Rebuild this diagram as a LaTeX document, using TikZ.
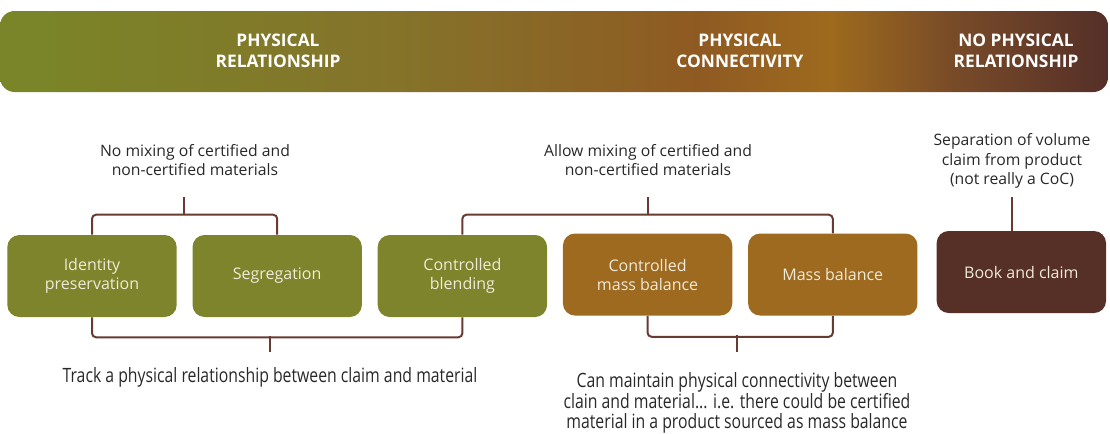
\documentclass[tikz,border=0pt]{standalone}
\usepackage{fontspec}
\setmainfont{Open Sans}
\newfontfamily\condfont[FakeStretch=0.8]{Open Sans}
\usetikzlibrary{positioning}

\definecolor{olivebox}{RGB}{126,132,43}
\definecolor{ochrebox}{RGB}{157,106,32}
\definecolor{brownbox}{RGB}{86,47,39}
\definecolor{bracketcol}{RGB}{104,58,50}
\definecolor{boxtext}{RGB}{240,234,216}
\definecolor{notetext}{RGB}{40,40,40}
\definecolor{bannerA}{RGB}{122,132,40}
\definecolor{bannerB}{RGB}{133,115,42}
\definecolor{bannerC}{RGB}{143,90,34}
\definecolor{bannerD}{RGB}{158,106,30}
\definecolor{bannerE}{RGB}{120,75,40}
\definecolor{bannerF}{RGB}{85,47,40}

\pgfdeclarehorizontalshading{banner}{100bp}{color(0bp)=(bannerA); color(27bp)=(bannerA); color(43bp)=(bannerB); color(56.5bp)=(bannerC); color(62.5bp)=(bannerD); color(68bp)=(bannerE); color(75bp)=(bannerF); color(100bp)=(bannerF)}

\tikzset{
  method/.style={rounded corners=9pt, minimum width=127pt, minimum height=61.5pt,
    inner sep=0pt, text=boxtext, align=center, font=\fontsize{12}{14.25}\selectfont},
  bracket/.style={draw=bracketcol, line width=1.5pt, rounded corners=3pt},
  note/.style={align=center, text=notetext, font=\fontsize{11.8}{14.6}\selectfont},
  condnote/.style={align=center, text=notetext, font=\condfont\fontsize{14.8}{14.6}\selectfont},
  head/.style={align=center, text=white, font=\bfseries\fontsize{13}{15.75}\selectfont},
}

\begin{document}
\begin{tikzpicture}[x=0.75pt, y=-0.75pt]
\useasboundingbox (0,0) rectangle (1110,433);

% banner
\shade[shading=banner, rounded corners=11pt] (0,11) rectangle (1108,92);
\node[head] (hrel) at (278,50.5) {PHYSICAL\\RELATIONSHIP};
\node[head] (hcon) at (740,50.5) {PHYSICAL\\CONNECTIVITY};
\node[head] (hnone) at (1016,50.5) {NO PHYSICAL\\RELATIONSHIP};

% chain of custody models
\node[method, fill=olivebox] (ip) at (92,276) {Identity\\preservation};
\node[method, fill=olivebox, right=11.5pt of ip] (seg) {Segregation};
\node[method, fill=olivebox, right=11.5pt of seg] (cb) {Controlled\\blending};
\node[method, fill=ochrebox, right=11.5pt of cb, yshift=1.1pt] (cmb) {Controlled\\mass balance};
\node[method, fill=ochrebox, right=11.5pt of cmb] (mb) {Mass balance};
\node[method, fill=brownbox, right=14pt of mb, yshift=1.9pt] (bc) {Book and claim};

% notes
\node[note] (nomix) at (195,160) {No mixing of certified and\\non-certified materials};
\node[note] (mix) at (648,160) {Allow mixing of certified and\\non-certified materials};
\node[note] (sep) at (1012,161) {Separation of volume\\claim from product\\(not really a CoC)};
\node[condnote] (track) at (270,377) {Track a physical relationship between claim and material};
\node[condnote] (conn) at (737,403) {Can maintain physical connectivity between\\clain and material... i.e. there could be certified\\material in a product sourced as mass balance};

% brackets
\coordinate (stemA) at (184,197);
\coordinate (stemB) at (648,197);
\coordinate (stemC) at (270,352);
\coordinate (stemD) at (737,352);
\coordinate (stemE) at (1012,197);
\draw[bracket] (ip.north) -- ++(0,-20) -| (seg.north);
\draw[bracket] (stemA) -- ++(0,17);
\draw[bracket] (cb.north) -- ++(0,-20) -| (mb.north);
\draw[bracket] (stemB) -- ++(0,17);
\draw[bracket] (ip.south) -- ++(0,20) -| (cb.south);
\draw[bracket] (stemC) -- ++(0,-16);
\draw[bracket] (cmb.south) -- ++(0,21) -| (mb.south);
\draw[bracket] (stemD) -- ++(0,-17);
\draw[bracket] (stemE) -- (stemE |- bc.north);
\end{tikzpicture}
\end{document}
